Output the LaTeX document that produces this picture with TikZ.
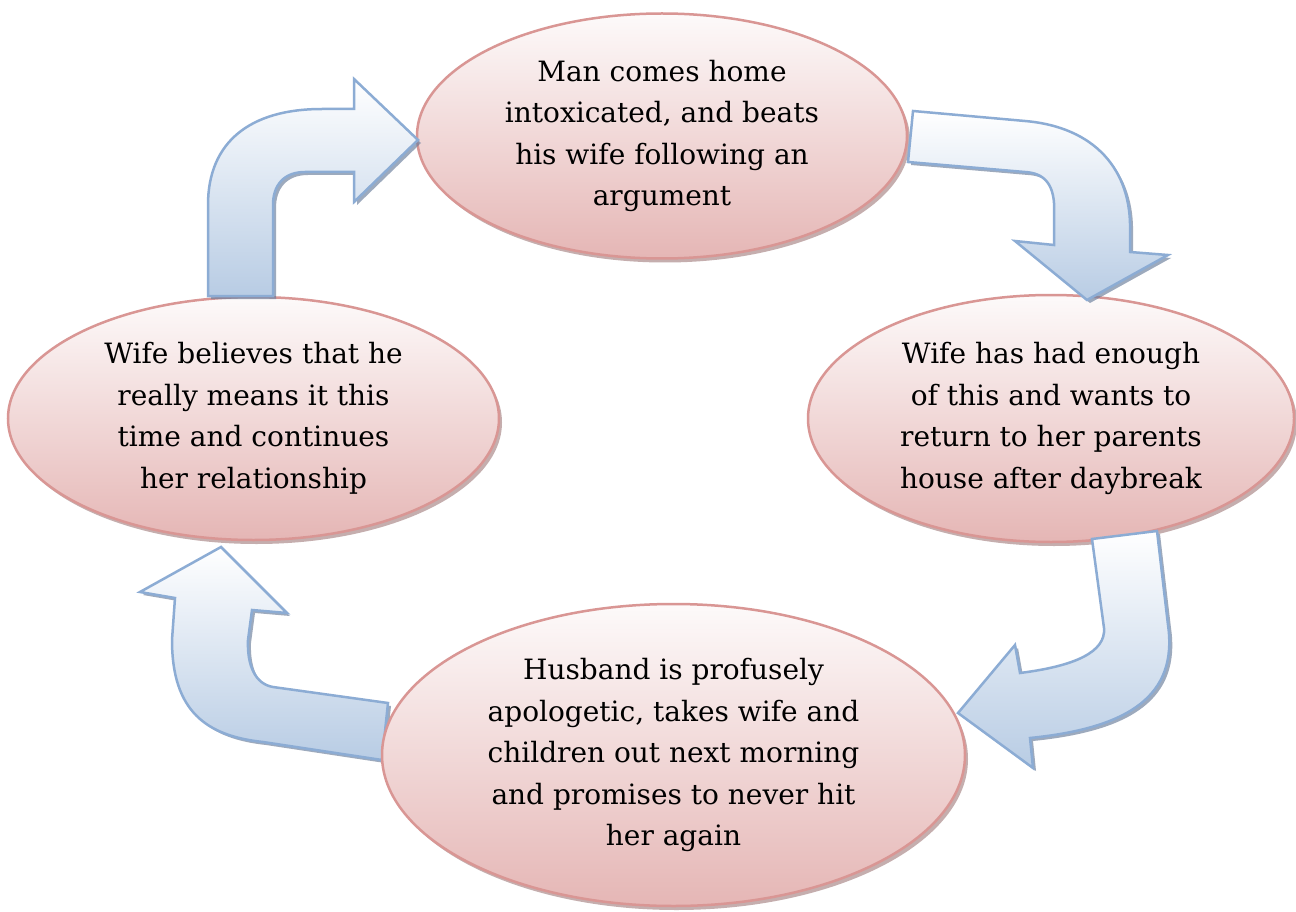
\documentclass[tikz,border=0pt]{standalone}
\usepackage{fontspec}
\setmainfont{DejaVu Serif}
\usetikzlibrary{shapes.geometric,shadows}
\definecolor{ebord}{RGB}{217,150,148}
\definecolor{etop}{RGB}{253,250,250}
\definecolor{ebot}{RGB}{229,182,181}
\definecolor{eshad}{RGB}{150,108,108}
\definecolor{abord}{RGB}{140,172,212}
\definecolor{atop}{RGB}{255,255,255}
\definecolor{abot}{RGB}{184,204,228}
\definecolor{ashad}{RGB}{105,125,155}
\tikzset{
  stage/.style={ellipse, draw=ebord, line width=2.5pt, top color=etop, bottom color=ebot,
    inner sep=0pt, align=center, font=\fontsize{28}{41.5}\selectfont,
    drop shadow={shadow xshift=3pt, shadow yshift=-4pt, fill=eshad, opacity=0.55}},
  blockarrow/.style={draw=abord, line width=2.5pt, line join=miter, top color=atop, bottom color=abot,
    drop shadow={shadow xshift=3pt, shadow yshift=-3pt, fill=ashad, opacity=0.65}}
}
\begin{document}
\begin{tikzpicture}[x=1pt, y=-1pt]
\useasboundingbox (0,0) rectangle (1296,912);
\fill[white] (0,0) rectangle (1296,912);

% block arrows behind
\path[blockarrow] (388,703) -- (273,687) .. controls (255,684) and (247,665) .. (248,640)
  -- (252,610) -- (287,613) -- (221,547) -- (140,592) -- (175,598) -- (172,640)
  .. controls (172,712) and (207,736) .. (263,742) -- (382,760) -- cycle;

% stages
\node[stage, minimum width=490pt, minimum height=245pt] (s1) at (662,136)
  {Man comes home\\intoxicated, and beats\\his wife following an\\argument};
\node[stage, minimum width=486pt, minimum height=247pt] (s2) at (1051,418.5)
  {Wife has had enough\\of this and wants to\\return to her parents\\house after daybreak};
\node[stage, minimum width=583pt, minimum height=302pt] (s3) at (673.5,755)
  {Husband is profusely\\apologetic, takes wife and\\children out next morning\\and promises to never hit\\her again};
\node[stage, minimum width=491pt, minimum height=243pt] (s4) at (253.5,418.5)
  {Wife believes that he\\really means it this\\time and continues\\her relationship};

% block arrows in front
\path[blockarrow] (208,296) -- (208,205) .. controls (208,142) and (250,109) .. (322,109)
  -- (354,109) -- (354,79) -- (418,140) -- (354,202) -- (354,172) -- (305,172)
  .. controls (284,172) and (273,185) .. (273,205) -- (273,296) -- cycle;
\path[blockarrow] (913,111) -- (1025,121) .. controls (1095,127) and (1132,170) .. (1130,232)
  -- (1130,252) -- (1168,255) -- (1087,300) -- (1015,241) -- (1054,245) -- (1054,215)
  .. controls (1056,184) and (1044,173) .. (1025,172) -- (908,162) -- cycle;
\path[blockarrow] (1092,539) -- (1157,531) -- (1168,625) .. controls (1178,695) and (1130,728) .. (1030,738)
  -- (1033,768) -- (958,713) -- (1015,645) -- (1020,673)
  .. controls (1075,666) and (1106,652) .. (1104,628) -- cycle;
\end{tikzpicture}
\end{document}
